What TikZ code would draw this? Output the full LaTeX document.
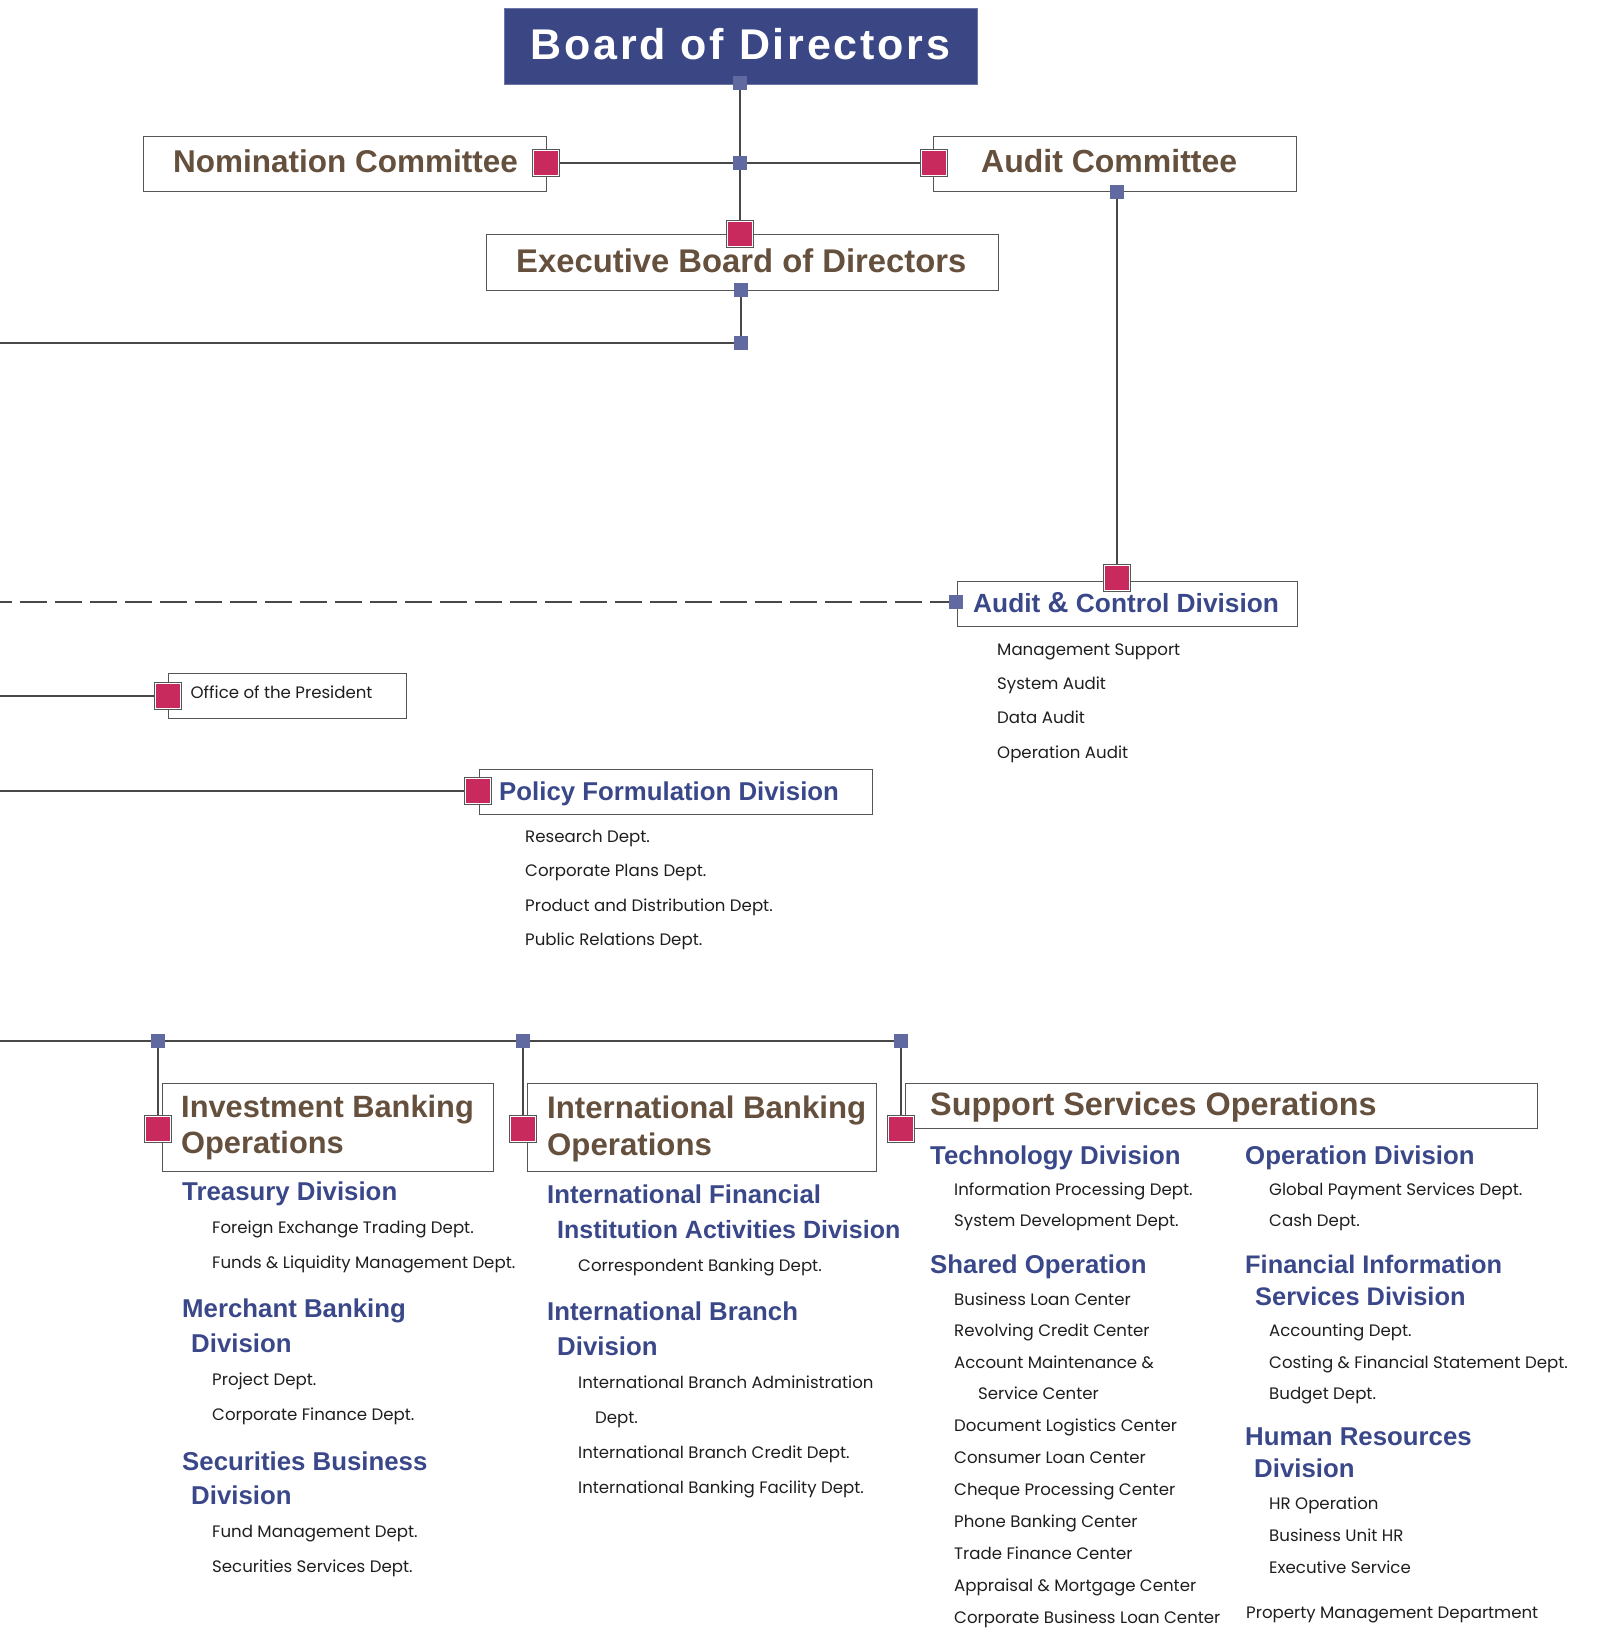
\documentclass[tikz,border=0pt]{standalone}
\usepackage{fontspec}
\setmainfont{Poppins}
\newfontfamily\headfont{Liberation Sans}
\usetikzlibrary{backgrounds}
\definecolor{navy}{RGB}{59,71,133}
\definecolor{slate}{RGB}{96,106,160}
\definecolor{rosec}{RGB}{201,42,94}
\definecolor{brownc}{RGB}{101,80,62}
\definecolor{bluec}{RGB}{58,72,138}
\definecolor{linec}{RGB}{72,72,72}
\definecolor{boxc}{RGB}{85,85,85}
\definecolor{itemc}{RGB}{30,30,30}
\newcommand{\brnsize}[1]{\headfont\bfseries\fontsize{#1}{#1}\selectfont}
\tikzset{
  box/.style={rectangle, draw=boxc, line width=1.3pt, fill=white, inner sep=0pt, anchor=north west},
  bsq/.style={rectangle, fill=slate, minimum size=14pt, inner sep=0pt},
  psq/.style={rectangle, inner sep=0pt, minimum size=24.5pt, fill=rosec, draw=white, line width=1.2pt, preaction={draw=boxc, line width=2.6pt}},
  conn/.style={draw=linec, line width=1.35pt},
  brn/.style={anchor=base west, inner sep=0pt, text=brownc, font=\brnsize{31.5}},
  blu/.style={anchor=base west, inner sep=0pt, text=bluec, font=\headfont\bfseries\fontsize{25.8}{30}\selectfont},
  itm/.style={anchor=base west, inner sep=0pt, yshift=2pt, text=itemc, font=\fontsize{16.6}{20}\selectfont},
}
\begin{document}
\begin{tikzpicture}[x=1pt,y=-1pt]
\useasboundingbox (0,0) rectangle (1596,1628);
% ---------- boxes ----------
\node[box, fill=navy, draw=navy!75!white, line width=0.8pt, minimum width=473pt, minimum height=76pt] (bod) at (504,8) {};
\node[box, minimum width=403pt, minimum height=55pt] (nom) at (143,136) {};
\node[box, minimum width=363pt, minimum height=55pt] (audc) at (933,136) {};
\node[box, minimum width=512pt, minimum height=56pt] (exec) at (486,234) {};
\node[box, minimum width=340pt, minimum height=45pt] (acd) at (957,581) {};
\node[box, minimum width=238pt, minimum height=45pt] (office) at (168,673) {};
\node[box, minimum width=393pt, minimum height=45pt] (policy) at (479,769) {};
\node[box, minimum width=331pt, minimum height=88pt] (ibo) at (162,1083) {};
\node[box, minimum width=349pt, minimum height=88pt] (intl) at (527,1083) {};
\node[box, minimum width=632pt, minimum height=45pt] (sso) at (905,1083) {};
% ---------- small squares ----------
\node[bsq] (b1) at (740,83) {};
\node[bsq] (j1) at (740,163) {};
\node[bsq] (b2) at (741,290) {};
\node[bsq] (j2) at (741,343) {};
\node[bsq] (b3) at (1117,192) {};
\node[bsq] (b4) at (956,602) {};
\node[bsq] (j3) at (158,1041) {};
\node[bsq] (j4) at (523,1041) {};
\node[bsq] (j5) at (901,1041) {};
% ---------- pink squares ----------
\node[psq] (pnom) at (546,163) {};
\node[psq] (paud) at (934,163) {};
\node[psq] (pexec) at (740,234) {};
\node[psq] (pacd) at (1117,578) {};
\node[psq] (poff) at (168,696) {};
\node[psq] (ppol) at (478,791) {};
\node[psq] (pibo) at (158,1129) {};
\node[psq] (pintl) at (523,1129) {};
\node[psq] (psso) at (901,1129) {};
% ---------- free ends ----------
\coordinate (e343) at (0,343);
\coordinate (e602) at (0,602);
\coordinate (e696) at (0,696);
\coordinate (e791) at (0,791);
\coordinate (e1041) at (0,1041);
% ---------- connectors ----------
\begin{scope}[on background layer]
\draw[conn] (b1.center) -- (pexec.center);
\draw[conn] (pnom.center) -- (paud.center);
\draw[conn] (b2.center) -- (j2.center);
\draw[conn] (e343) -- (j2.center);
\draw[conn] (b3.center) -- (pacd.center);
\draw[conn, dash pattern=on 27pt off 8pt, dash phase=15pt] (e602) -- (b4.center);
\draw[conn] (e696) -- (poff.center);
\draw[conn] (e791) -- (ppol.center);
\draw[conn] (e1041) -- (j5.center);
\draw[conn] (j3.center) -- (pibo.center);
\draw[conn] (j4.center) -- (pintl.center);
\draw[conn] (j5.center) -- (psso.center);
\end{scope}
% ---------- top texts ----------
\node[anchor=base, inner sep=0pt, text=white, font=\headfont\bfseries\addfontfeature{LetterSpace=6.5}\fontsize{43}{48}\selectfont] (tbod) at (740.5,59) {Board of Directors};
\node[brn] (tnom) at (173,172) {Nomination Committee};
\node[brn, font=\brnsize{32}] (taud) at (981,172) {Audit Committee};
\node[brn, font=\brnsize{32.8}] (texec) at (516,272) {Executive Board of Directors};
% ---------- audit & control ----------
\node[blu, font=\headfont\bfseries\fontsize{26.3}{30}\selectfont] (tacd) at (973,612) {Audit {\fontsize{29}{30}\selectfont\&} Control Division};
\node[itm] (a1) at (997,657) {Management Support};
\node[itm] (a2) at (997,691) {System Audit};
\node[itm] (a3) at (997,725) {Data Audit};
\node[itm] (a4) at (997,760) {Operation Audit};
% ---------- office / policy ----------
\node[itm] (toff) at (190.5,700) {Office of the President};
\node[blu] (tpol) at (499,800) {Policy Formulation Division};
\node[itm] (p1) at (525,844) {Research Dept.};
\node[itm] (p2) at (525,878) {Corporate Plans Dept.};
\node[itm] (p3) at (525,913) {Product and Distribution Dept.};
\node[itm] (p4) at (525,947) {Public Relations Dept.};
% ---------- investment banking ----------
\node[brn, font=\brnsize{30.8}] (tibo1) at (181,1117) {Investment Banking};
\node[brn, font=\brnsize{30.8}] (tibo2) at (181,1153) {Operations};
\node[blu] (tre) at (182,1200) {Treasury Division};
\node[itm] (tr1) at (212,1235) {Foreign Exchange Trading Dept.};
\node[itm] (tr2) at (212,1270) {Funds \& Liquidity Management Dept.};
\node[blu] (mb1) at (182,1317) {Merchant Banking};
\node[blu] (mb2) at (191,1352) {Division};
\node[itm] (mb3) at (212,1387) {Project Dept.};
\node[itm] (mb4) at (212,1422) {Corporate Finance Dept.};
\node[blu] (sb1) at (182,1470) {Securities Business};
\node[blu] (sb2) at (191,1504) {Division};
\node[itm] (sb3) at (212,1539) {Fund Management Dept.};
\node[itm] (sb4) at (212,1574) {Securities Services Dept.};
% ---------- international banking ----------
\node[brn, font=\brnsize{31.2}] (tin1) at (547,1118) {International Banking};
\node[brn, font=\brnsize{31.2}] (tin2) at (547,1155) {Operations};
\node[blu] (if1) at (547,1203) {International Financial};
\node[blu, font=\headfont\bfseries\fontsize{25}{30}\selectfont] (if2) at (557,1238) {Institution Activities Division};
\node[itm] (if3) at (578,1273) {Correspondent Banking Dept.};
\node[blu] (ib1) at (547,1320) {International Branch};
\node[blu] (ib2) at (557,1355) {Division};
\node[itm] (ib3) at (578,1390) {International Branch Administration};
\node[itm] (ib4) at (595,1425) {Dept.};
\node[itm] (ib5) at (578,1460) {International Branch Credit Dept.};
\node[itm] (ib6) at (578,1495) {International Banking Facility Dept.};
% ---------- support services ----------
\node[brn, font=\brnsize{32.4}] (tss) at (930,1115) {Support Services Operations};
\node[blu] (td) at (930,1164) {Technology Division};
\node[itm] (td1) at (954,1197) {Information Processing Dept.};
\node[itm] (td2) at (954,1228) {System Development Dept.};
\node[blu] (so) at (930,1273) {Shared Operation};
\node[itm] (so1) at (954,1307) {Business Loan Center};
\node[itm] (so2) at (954,1338) {Revolving Credit Center};
\node[itm] (so3) at (954,1370) {Account Maintenance \&};
\node[itm] (so4) at (978,1401) {Service Center};
\node[itm] (so5) at (954,1433) {Document Logistics Center};
\node[itm] (so6) at (954,1465) {Consumer Loan Center};
\node[itm] (so7) at (954,1497) {Cheque Processing Center};
\node[itm] (so8) at (954,1529) {Phone Banking Center};
\node[itm] (so9) at (954,1561) {Trade Finance Center};
\node[itm] (so10) at (954,1593) {Appraisal \& Mortgage Center};
\node[itm] (so11) at (954,1625) {Corporate Business Loan Center};
\node[blu] (od) at (1245,1164) {Operation Division};
\node[itm] (od1) at (1269,1197) {Global Payment Services Dept.};
\node[itm] (od2) at (1269,1228) {Cash Dept.};
\node[blu, font=\headfont\bfseries\fontsize{25.4}{30}\selectfont] (fi1) at (1245,1273) {Financial Information};
\node[blu, font=\headfont\bfseries\fontsize{25.4}{30}\selectfont] (fi2) at (1255,1305) {Services Division};
\node[itm] (fi3) at (1269,1338) {Accounting Dept.};
\node[itm] (fi4) at (1269,1370) {Costing \& Financial Statement Dept.};
\node[itm] (fi5) at (1269,1401) {Budget Dept.};
\node[blu] (hr1) at (1245,1445) {Human Resources};
\node[blu] (hr2) at (1254,1477) {Division};
\node[itm] (hr3) at (1269,1511) {HR Operation};
\node[itm] (hr4) at (1269,1543) {Business Unit HR};
\node[itm] (hr5) at (1269,1575) {Executive Service};
\node[itm] (pm) at (1246,1620) {Property Management Department};
\end{tikzpicture}
\end{document}
